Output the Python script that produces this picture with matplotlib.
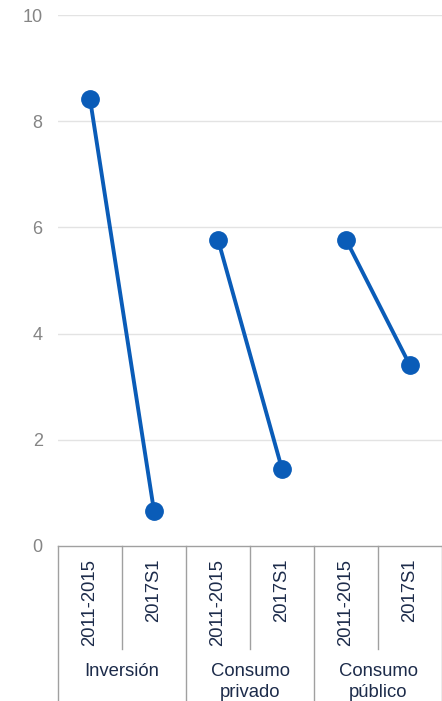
import matplotlib
matplotlib.use("Agg")
import matplotlib.pyplot as plt
import matplotlib.transforms as mtransforms

groups = ["Inversión", "Consumo\nprivado", "Consumo\npúblico"]
periods = ["2011-2015", "2017S1"]
start_vals = [8.42, 5.77, 5.77]
end_vals = [0.66, 1.45, 3.40]
yticks = [0, 2, 4, 6, 8, 10]

W, H = 442, 701
fig = plt.figure(figsize=(W / 100, H / 100), dpi=100)
ax = fig.add_axes([58 / W, (H - 546) / H, 1 - 58 / W, (546 - 15) / H])

line_color = "#0a5cb8"
navy = "#1c2b4a"
for i, (a, b) in enumerate(zip(start_vals, end_vals)):
    xs = [2 * i, 2 * i + 1]
    ax.plot(xs, [a, b], color=line_color, lw=2.8, marker="o", ms=12.5,
            solid_capstyle="round", zorder=3)

ax.set_xlim(-0.5, 2 * len(groups) - 0.5)
ax.set_ylim(0, 10)
ax.set_yticks(yticks)
ax.set_yticklabels([str(v) for v in yticks], fontsize=13, color="#858585",
                   family="Liberation Sans")
ax.tick_params(axis="y", length=0, pad=11)
ax.set_xticks([])
for v in yticks[1:]:
    ax.axhline(v, color="#e3e3e3", lw=1, zorder=0)
for s in ["top", "right", "left"]:
    ax.spines[s].set_visible(False)
ax.spines["bottom"].set_color("#a0a0a0")
ax.spines["bottom"].set_linewidth(1)

axh = 546 - 15
def ay(px):
    return -px / axh

trans = mtransforms.blended_transform_factory(ax.transData, ax.transAxes)
n = 2 * len(groups)
for k in range(n + 1):
    x = k - 0.5
    if k % 2 == 0:
        ax.plot([x, x], [0, ay(160)], transform=trans, color="#a0a0a0", lw=1, clip_on=False)
    else:
        ax.plot([x, x], [0, ay(103)], transform=trans, color="#a0a0a0", lw=1, clip_on=False)

for i, g in enumerate(groups):
    for j, p in enumerate(periods):
        ax.text(2 * i + j, ay(13), p, transform=trans, rotation=90, ha="center", va="top",
                fontsize=13.3, color=navy, family="Liberation Sans")
    ax.text(2 * i + 0.5, ay(117), g, transform=trans, ha="center", va="top",
            fontsize=13.3, color=navy, family="Liberation Sans", linespacing=1.3)

fig.savefig("out.png", dpi=100)
